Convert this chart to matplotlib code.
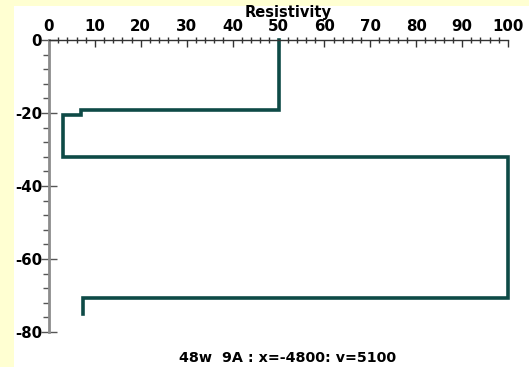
import matplotlib
matplotlib.use("Agg")
import matplotlib.pyplot as plt
from matplotlib.patches import Rectangle
from matplotlib.ticker import MultipleLocator

# Layered resistivity model: one resistivity per layer, layer boundaries (depth, m)
resistivity = [50, 7, 3, 100, 7.5]
boundaries = [0, -19.2, -20.5, -32, -70.7, -75]

x_ticks = [0, 10, 20, 30, 40, 50, 60, 70, 80, 90, 100]
y_ticks = [0, -20, -40, -60, -80]
title = "Resistivity"
caption = "48w  9A : x=-4800: v=5100"

plt.rcParams['font.family'] = ['DejaVu Sans']
plt.rcParams['font.weight'] = 'bold'

fig = plt.figure(figsize=(5.29, 3.67), dpi=100)
fig.patch.set_facecolor('#FFFFD2')
fig.patches.append(Rectangle((14 / 529, 0), 1, 1 - 6 / 367, transform=fig.transFigure,
                             facecolor='white', edgecolor='none', zorder=-5))

ax = fig.add_axes([49 / 529, 35 / 367, 459 / 529, 292 / 367])
ax.set_facecolor('none')

# Build the step profile: vertical run through each layer, horizontal jump at each boundary
xs, ys = [], []
for i, r in enumerate(resistivity):
    xs += [r, r]
    ys += [boundaries[i], boundaries[i + 1]]
ax.plot(xs, ys, color='#0E4A46', lw=2.6, solid_joinstyle='miter', clip_on=False)

ax.set_xlim(0, 100)
ax.set_ylim(-80, 0)
ax.xaxis.tick_top()
ax.xaxis.set_label_position('top')
ax.set_xticks(x_ticks)
ax.set_xticklabels([str(v) for v in x_ticks])
ax.set_yticks(y_ticks)
ax.set_yticklabels([str(v) for v in y_ticks])
ax.xaxis.set_minor_locator(MultipleLocator(2))
ax.yaxis.set_minor_locator(MultipleLocator(4))

for s in ('right', 'bottom'):
    ax.spines[s].set_visible(False)
ax.spines['top'].set_color('#333333')
ax.spines['top'].set_linewidth(1.0)
ax.spines['left'].set_color('#8C8C8C')
ax.spines['left'].set_linewidth(2.0)

ax.tick_params(axis='x', which='major', direction='in', length=5, width=1.0,
               color='#333333', labelsize=10.8, pad=4)
ax.tick_params(axis='x', which='minor', direction='inout', length=4, width=1.0,
               color='#333333')
ax.tick_params(axis='y', which='major', direction='inout', length=12, width=1.0,
               color='#555555', labelsize=10.8, pad=-1)
ax.tick_params(axis='y', which='minor', direction='out', length=4, width=1.0,
               color='#555555')
for lbl in ax.get_xticklabels() + ax.get_yticklabels():
    lbl.set_fontweight('bold')

fig.text(288 / 529, 1 - 12 / 367, title, ha='center', va='center',
         fontsize=10.5, fontweight='bold')
fig.text(288 / 529, 1 - 358 / 367, caption, ha='center', va='center',
         fontsize=10.3, fontweight='bold')

fig.savefig('out.png', dpi=100, facecolor=fig.get_facecolor())
